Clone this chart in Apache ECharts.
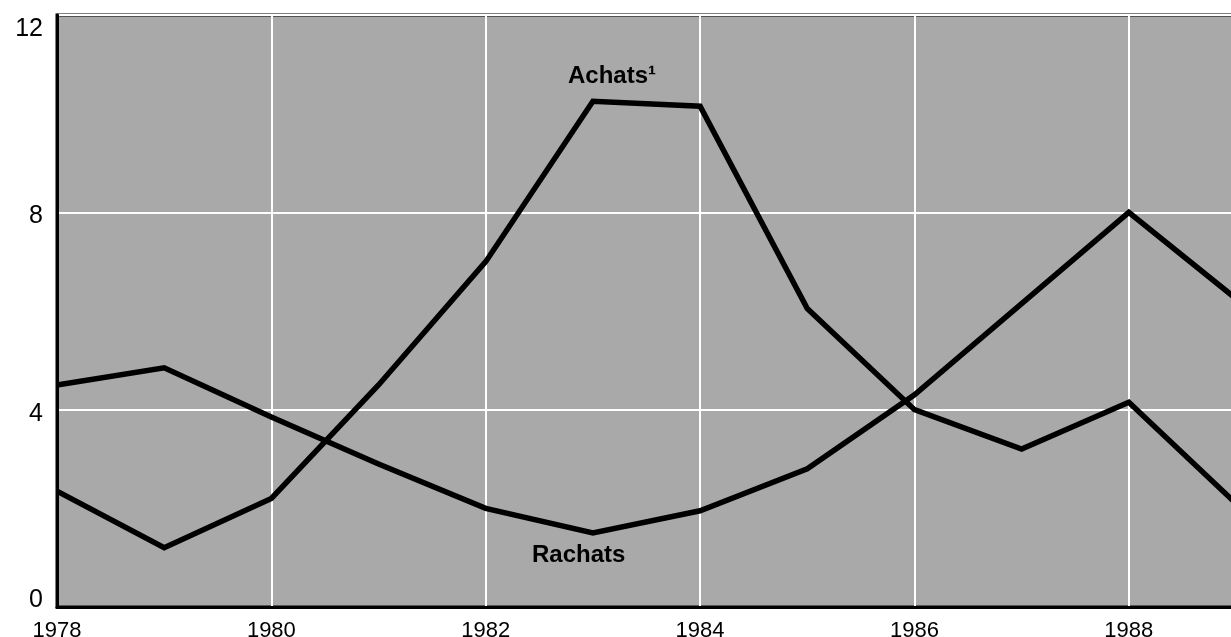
<!DOCTYPE html>
<html>
<head>
<meta charset="utf-8">
<script src="https://cdn.jsdelivr.net/npm/echarts@6/dist/echarts.min.js"></script>
<style>
  html, body { margin: 0; padding: 0; background: #fff; }
  #chart { width: 1231px; height: 637px; }
</style>
</head>
<body>
<div id="chart"></div>
<script>
// années et valeurs
var years = [1978, 1979, 1980, 1981, 1982, 1983, 1984, 1985, 1986, 1987, 1988, 1989];
var achats = [2.35, 1.2, 2.2, 4.5, 7.0, 10.25, 10.15, 6.05, 4.0, 3.2, 4.15, 2.1];
var rachats = [4.5, 4.85, 3.85, 2.9, 2.0, 1.5, 1.95, 2.8, 4.3, 6.15, 8.0, 6.25];
var yTicks = [0, 4, 8, 12];

var FONT = '"Liberation Sans", Arial, Helvetica, sans-serif';

function pairs(vals) {
    return years.map(function (y, i) { return [y, vals[i]]; });
}

var myChart = echarts.init(document.getElementById('chart'));

var option = {
    backgroundColor: '#fff',
    animation: false,
    grid: {
        left: 57,
        right: -5,
        top: 15,
        bottom: 30,
        outerBoundsMode: 'none',
        containLabel: false,
        show: true,
        backgroundColor: '#a9a9a9',
        borderColor: '#000',
        borderWidth: 3
    },
    xAxis: {
        type: 'value',
        min: 1978,
        max: 1989,
        interval: 2,
        axisLine: { show: true, lineStyle: { color: '#000', width: 3 } },
        axisTick: { show: false },
        splitLine: { show: true, lineStyle: { color: '#fff', width: 2 } },
        axisLabel: {
            color: '#000',
            fontFamily: FONT,
            fontSize: 22,
            margin: 13,
            formatter: function (v) { return v % 2 === 0 ? String(v) : ''; }
        }
    },
    yAxis: {
        type: 'value',
        min: yTicks[0],
        max: yTicks[yTicks.length - 1],
        interval: 4,
        axisLine: { show: true, lineStyle: { color: '#000', width: 3 } },
        axisTick: { show: false },
        splitLine: { show: true, lineStyle: { color: '#fff', width: 2 } },
        axisLabel: {
            color: '#000',
            fontFamily: FONT,
            fontSize: 25,
            margin: 14,
            formatter: function (v) {
                if (v === 12) return '{t|12}';
                if (v === 0) return '{b|0}';
                return '{n|' + v + '}';
            },
            rich: {
                t: { fontSize: 25, fontFamily: FONT, color: '#000', padding: [28, 0, 0, 0] },
                b: { fontSize: 25, fontFamily: FONT, color: '#000', padding: [0, 0, 14, 0] },
                n: { fontSize: 25, fontFamily: FONT, color: '#000', padding: [8, 0, 0, 0] }
            }
        }
    },
    series: [
        {
            name: 'Achats',
            type: 'line',
            data: pairs(achats),
            symbol: 'none',
            lineStyle: { color: '#000', width: 5.5, join: 'miter' },
            z: 3
        },
        {
            name: 'Rachats',
            type: 'line',
            data: pairs(rachats),
            symbol: 'none',
            lineStyle: { color: '#000', width: 5.5, join: 'miter' },
            z: 3
        }
    ],
    graphic: [
        {
            type: 'text',
            left: 568,
            top: 64,
            z: 10,
            style: { text: 'Achats¹', fill: '#000', font: 'bold 24px ' + FONT }
        },
        {
            type: 'text',
            left: 532,
            top: 543,
            z: 10,
            style: { text: 'Rachats', fill: '#000', font: 'bold 24px ' + FONT }
        }
    ]
};

myChart.setOption(option);
</script>
</body>
</html>
